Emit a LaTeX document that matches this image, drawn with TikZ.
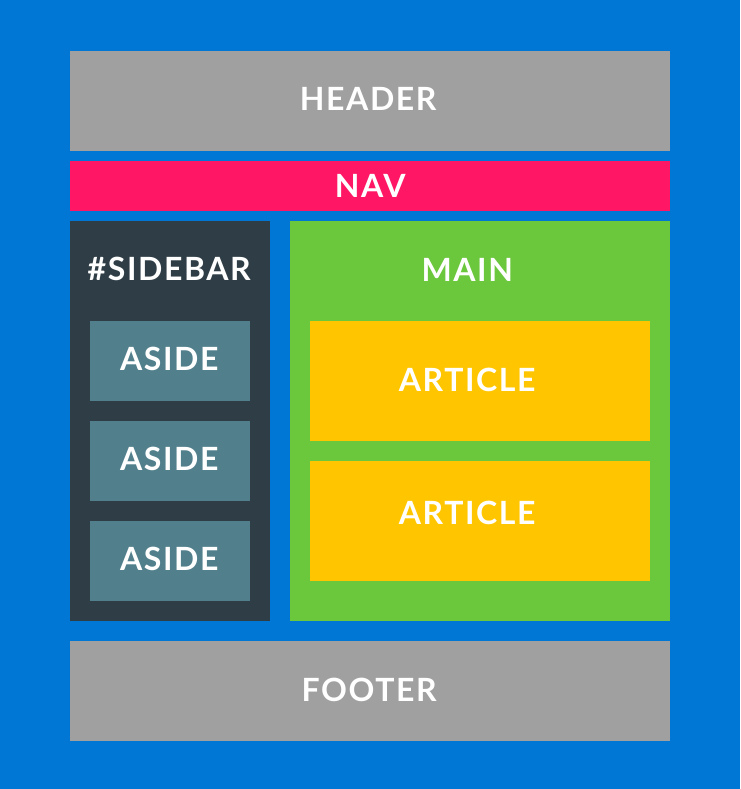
\documentclass[tikz,border=0pt]{standalone}
\usepackage{fontspec}
\setmainfont{Lato}[LetterSpace=5]
\usetikzlibrary{positioning}
\definecolor{pageblue}{RGB}{0,119,212}
\definecolor{boxgray}{RGB}{160,160,160}
\definecolor{navpink}{RGB}{255,23,101}
\definecolor{sidedark}{RGB}{47,62,70}
\definecolor{asideteal}{RGB}{81,127,140}
\definecolor{maingreen}{RGB}{107,199,60}
\definecolor{artyellow}{RGB}{255,198,0}
\tikzset{%
  box/.style = {rectangle,draw=none,inner sep=0pt,anchor=north west},
  lbl/.style = {text=white,font=\fontsize{32}{36}\selectfont\bfseries,
        inner sep=0pt,anchor=center}
}
\begin{document}
\begin{tikzpicture}[x=1pt,y=-1pt]
\fill[pageblue] (0,0) rectangle (740,789);
\useasboundingbox (0,0) rectangle (740,789);
% page blocks
\node[box,fill=boxgray,minimum width=600pt,minimum height=100pt] (header) at (70,51) {};
\node[box,fill=navpink,minimum width=600pt,minimum height=50pt] (nav) at (70,161) {};
\node[box,fill=sidedark,minimum width=200pt,minimum height=400pt] (sidebar) at (70,221) {};
\node[box,fill=maingreen,minimum width=380pt,minimum height=400pt] (main) at (290,221) {};
\node[box,fill=boxgray,minimum width=600pt,minimum height=100pt] (footer) at (70,641) {};
% asides
\foreach \i/\y in {1/321,2/421,3/521}
  \node[box,fill=asideteal,minimum width=160pt,minimum height=80pt] (aside\i) at (90,\y) {};
% articles
\node[box,fill=artyellow,minimum width=340pt,minimum height=120pt] (article1) at (310,321) {};
\node[box,fill=artyellow,minimum width=340pt,minimum height=120pt] (article2) at (310,461) {};
% labels
\node[lbl] at ([xshift=-2pt,yshift=2pt]header.center) {HEADER};
\node[lbl] at ([yshift=0pt]nav.center) {NAV};
\node[lbl] at ([xshift=-1pt,yshift=-48pt]sidebar.north) {\#SIDEBAR};
\node[lbl] at ([xshift=-13pt,yshift=-49pt]main.north) {MAIN};
\foreach \i in {1,2,3}
  \node[lbl] at ([xshift=-1pt,yshift=2pt]aside\i.center) {ASIDE};
\node[lbl] at ([xshift=-13pt,yshift=1pt]article1.center) {ARTICLE};
\node[lbl] at ([xshift=-13pt,yshift=8pt]article2.center) {ARTICLE};
\node[lbl] at ([xshift=-1pt,yshift=1pt]footer.center) {FOOTER};
\end{tikzpicture}
\end{document}
